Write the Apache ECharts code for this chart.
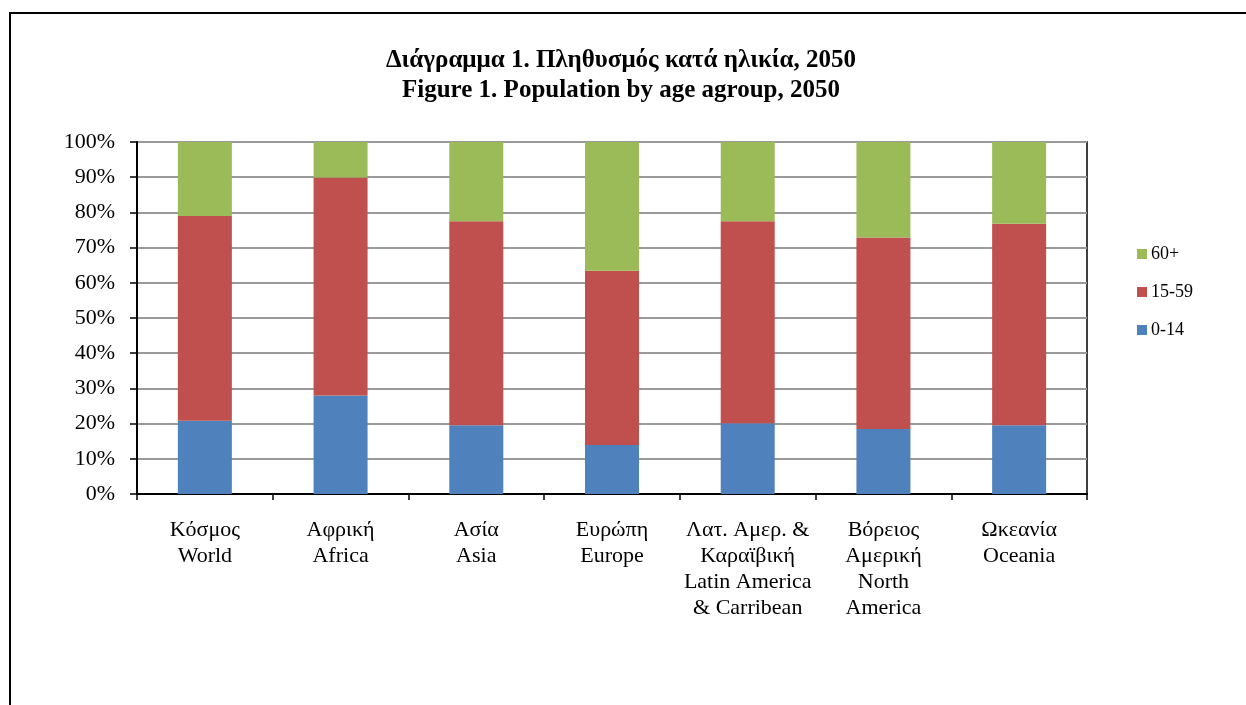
<!DOCTYPE html>
<html>
<head>
<meta charset="utf-8">
<script src="https://cdn.jsdelivr.net/npm/echarts@6/dist/echarts.min.js"></script>
<style>
  html, body { margin: 0; padding: 0; background: #fff; }
  #chart { width: 1246px; height: 705px; }
</style>
</head>
<body>
<div id="chart"></div>
<script>
// categories (Greek + English)
var regions = [
  "Κόσμος\nWorld",
  "Αφρική\nAfrica",
  "Ασία\nAsia",
  "Ευρώπη\nEurope",
  "Λατ. Αμερ. &\nΚαραϊβική\nLatin America\n& Carribean",
  "Βόρειος\nΑμερική\nNorth\nAmerica",
  "Ωκεανία\nOceania"
];
// percentages
var age0_14 = [20.8, 28.0, 19.5, 13.9, 20.1, 18.5, 19.5];
var age15_59 = [58.2, 61.9, 58.0, 49.5, 57.4, 54.4, 57.3];
var age60 = [21.0, 10.1, 22.5, 36.6, 22.5, 27.1, 23.2];

var font = "'Liberation Serif', 'Times New Roman', serif";

var chart = echarts.init(document.getElementById("chart"));
var option = {
  animation: false,
  textStyle: { fontFamily: font },
  title: {
    text: "Διάγραμμα 1. Πληθυσμός κατά ηλικία, 2050\nFigure 1. Population by age agroup, 2050",
    left: 616,
    textAlign: "center",
    top: 41,
    textStyle: {
      fontFamily: font,
      fontSize: 25,
      fontWeight: "bold",
      color: "#000",
      lineHeight: 30
    }
  },
  graphic: [{
    type: "rect",
    shape: { x: 10, y: 13, width: 1400, height: 900 },
    style: { fill: null, stroke: "#000", lineWidth: 2 },
    silent: true
  }],
  legend: {
    data: ["60+", "15-59", "0-14"],
    orient: "vertical",
    left: 1132,
    top: 240,
    itemWidth: 10,
    itemHeight: 10,
    itemGap: 20,
    icon: "rect",
    textStyle: { fontFamily: font, fontSize: 18, color: "#000", padding: [0, 0, 0, -1] }
  },
  grid: {
    left: 137,
    right: 159,
    top: 142,
    height: 352,
    show: true,
    borderColor: "#000",
    borderWidth: 1.5
  },
  xAxis: {
    type: "category",
    data: regions,
    axisLine: { lineStyle: { color: "#000", width: 2 } },
    axisTick: { show: true, length: 6, lineStyle: { color: "#000", width: 1.5 } },
    axisLabel: {
      interval: 0,
      margin: 23,
      fontFamily: font,
      fontSize: 22,
      lineHeight: 26,
      color: "#000"
    }
  },
  yAxis: {
    type: "value",
    min: 0,
    max: 100,
    interval: 10,
    axisLine: { show: true, lineStyle: { color: "#000", width: 2 } },
    axisTick: { show: true, length: 7, lineStyle: { color: "#000", width: 1.5 } },
    splitLine: { lineStyle: { color: "#999", width: 2 } },
    axisLabel: {
      formatter: "{value}%",
      margin: 22,
      fontFamily: font,
      fontSize: 22,
      color: "#000"
    }
  },
  series: [
    {
      name: "0-14", type: "bar", stack: "pop", barWidth: 54,
      itemStyle: { color: "#4F81BD" },
      data: age0_14
    },
    {
      name: "15-59", type: "bar", stack: "pop", barWidth: 54,
      itemStyle: { color: "#C0504D" },
      data: age15_59
    },
    {
      name: "60+", type: "bar", stack: "pop", barWidth: 54,
      itemStyle: { color: "#9BBB59" },
      data: age60
    }
  ]
};
chart.setOption(option);
</script>
</body>
</html>
